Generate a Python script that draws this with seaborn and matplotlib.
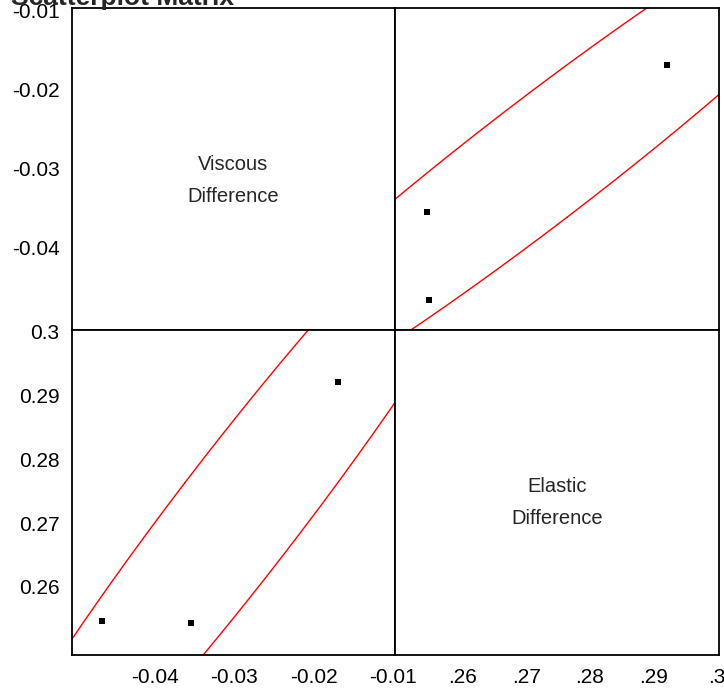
import numpy as np
import pandas as pd
import matplotlib
matplotlib.use("Agg")
import matplotlib.pyplot as plt
import seaborn as sns

# Measurements
viscous = [-0.0169, -0.0355, -0.0467]
elastic = [0.2921, 0.2543, 0.2546]

viscous_ticks = [-0.04, -0.03, -0.02, -0.01]
viscous_labels = ["-0.04", "-0.03", "-0.02", "-0.01"]
elastic_ticks = [0.26, 0.27, 0.28, 0.29, 0.30]
elastic_labels_y = ["0.26", "0.27", "0.28", "0.29", "0.3"]
elastic_labels_x = [".26", ".27", ".28", ".29", ".3"]

viscous_lim = (-0.0505, -0.0097)
elastic_lim = (0.2493, 0.3003)

# Bivariate normal fit used for the density ellipse (elastic, viscous)
ellipse_mean = [0.272, -0.0292]
ellipse_sd = [0.0245, 0.0153]
ellipse_corr = 0.966
ellipse_level = 0.95

df = pd.DataFrame({"Viscous Difference": viscous, "Elastic Difference": elastic})

sns.set_style("white")
plt.rcParams["font.family"] = ["Liberation Sans", "DejaVu Sans"]


def density_ellipse(mean, sd, corr, level, npts=400):
    """Contour of a bivariate normal holding `level` of its probability mass."""
    mu = np.asarray(mean, dtype=float)
    sx, sy = sd
    cov = np.array([[sx * sx, corr * sx * sy], [corr * sx * sy, sy * sy]])
    vals, vecs = np.linalg.eigh(cov)
    c = np.sqrt(-2.0 * np.log(1.0 - level))
    t = np.linspace(0, 2 * np.pi, npts)
    circ = np.vstack([np.cos(t), np.sin(t)])
    pts = vecs @ (np.sqrt(vals)[:, None] * circ) * c + mu[:, None]
    return pts[0], pts[1]


W, H = 724, 688
fig = plt.figure(figsize=(W / 100, H / 100), dpi=100)
L, M, R = 72 / W, 395 / W, 719 / W
T, Mid, B = 1 - 8 / H, 1 - 330 / H, 1 - 655 / H

ax_tl = fig.add_axes([L, Mid, M - L, T - Mid])
ax_tr = fig.add_axes([M, Mid, R - M, T - Mid])
ax_bl = fig.add_axes([L, B, M - L, Mid - B])
ax_br = fig.add_axes([M, B, R - M, Mid - B])

for ax in (ax_tl, ax_tr, ax_bl, ax_br):
    for s in ax.spines.values():
        s.set_visible(True)
        s.set_color("black")
        s.set_linewidth(1.3)
    ax.tick_params(direction="out", length=7, width=1.2, color="black",
                   labelsize=15, pad=2, labelcolor="black")

ex, ey = density_ellipse(ellipse_mean, ellipse_sd, ellipse_corr, ellipse_level)
ell = pd.DataFrame({"elastic": ex, "viscous": ey})

# Upper-right: Elastic (x) vs Viscous (y)
sns.lineplot(data=ell, x="elastic", y="viscous", sort=False, estimator=None,
             color="red", linewidth=1.0, ax=ax_tr)
sns.scatterplot(data=df, x="Elastic Difference", y="Viscous Difference", ax=ax_tr,
                marker="s", s=16, color="black", linewidth=0)

# Lower-left: Viscous (x) vs Elastic (y)
sns.lineplot(data=ell, x="viscous", y="elastic", sort=False, estimator=None,
             color="red", linewidth=1.0, ax=ax_bl)
sns.scatterplot(data=df, x="Viscous Difference", y="Elastic Difference", ax=ax_bl,
                marker="s", s=16, color="black", linewidth=0)

for ax in (ax_tl, ax_tr):
    ax.set_ylim(*viscous_lim)
for ax in (ax_bl, ax_br):
    ax.set_ylim(*elastic_lim)
for ax in (ax_tl, ax_bl):
    ax.set_xlim(*viscous_lim)
for ax in (ax_tr, ax_br):
    ax.set_xlim(*elastic_lim)

for ax in (ax_tl, ax_tr, ax_bl, ax_br):
    ax.set_xlabel("")
    ax.set_ylabel("")

# Axis ticks only on the outer left and bottom edges
ax_tl.set_yticks(viscous_ticks, viscous_labels)
ax_tl.set_xticks([])
ax_tr.set_xticks([])
ax_tr.set_yticks([])
ax_bl.set_yticks(elastic_ticks, elastic_labels_y)
ax_bl.set_xticks(viscous_ticks, viscous_labels)
ax_br.set_yticks([])
ax_br.set_xticks(elastic_ticks, elastic_labels_x)
for ax in (ax_bl, ax_br):
    ax.tick_params(axis="x", pad=2.5)

# Diagonal variable names
name_kw = dict(ha="center", va="center", fontsize=14.5)
ax_tl.text(0.5, 0.515, "Viscous", transform=ax_tl.transAxes, **name_kw)
ax_tl.text(0.5, 0.415, "Difference", transform=ax_tl.transAxes, **name_kw)
ax_br.text(0.5, 0.52, "Elastic", transform=ax_br.transAxes, **name_kw)
ax_br.text(0.5, 0.42, "Difference", transform=ax_br.transAxes, **name_kw)

fig.text(11 / W, 1 - 4.5 / H, "Scatterplot Matrix", fontsize=19, fontweight="bold",
         ha="left", va="baseline")

fig.savefig("out.png", dpi=100)
